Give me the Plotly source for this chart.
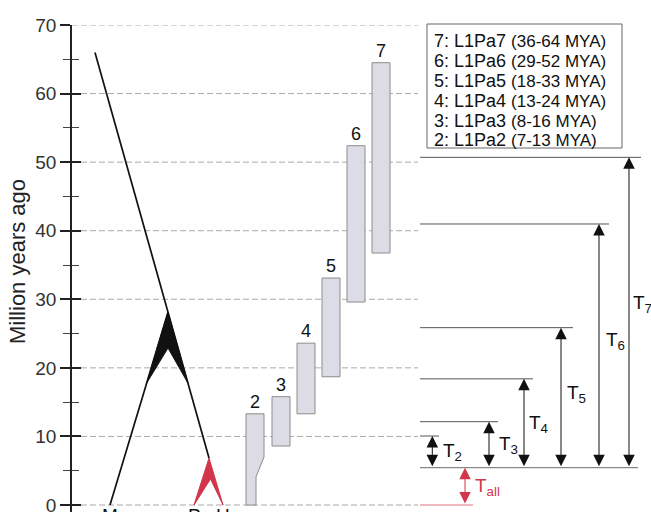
import plotly.graph_objects as go

# ---------------- data (ages in million years ago) ----------------
family_ids = ["2", "3", "4", "5", "6", "7"]
family_names = ["L1Pa2", "L1Pa3", "L1Pa4", "L1Pa5", "L1Pa6", "L1Pa7"]
family_age_text = ["7-13", "8-16", "13-24", "18-33", "29-52", "36-64"]
box_young = [7.0, 8.6, 13.3, 18.7, 29.6, 36.75]
box_old = [13.3, 15.8, 23.6, 33.1, 52.4, 64.5]
l1pa2_tail = [4.1, 0.0]          # neck age, bottom age of the L1Pa2 tail

tree_root_age = 66.0
split_old = 28.1                 # black wedge apex
split_young = 6.85               # red wedge apex
black_wedge_base = 17.8
black_wedge_notch = 22.9
red_wedge_notch = 3.8
tip_labels = ["M", "P", "H"]

t_names = ["2", "3", "4", "5", "6", "7"]
t_tops = [10.06, 12.15, 18.4, 25.86, 40.98, 50.7]
t_base = 5.45

ytick_vals = [0, 10, 20, 30, 40, 50, 60, 70]

# ---------------- layout positions (pixel columns) ----------------
W, H = 651, 512
L, T = 72, 25
PX_PER = 480 / 70.0


def val(py):
    return (505 - py) / PX_PER


def pap(py):
    return (H - py) / (H - T)


box_left = [246, 272, 297, 322, 347, 372]
box_w = 18
tail_right = 256

x_root, x_apex, x_M, x_red, x_P, x_H, x_notch_red = 95, 168, 110, 209, 194, 223, 210.5

t_arrow_x = [432.3, 489, 524, 561, 599, 629]
t_line_end = [439, 498, 533, 573, 609, 641]
t_label_x = [440.5, 497, 526.5, 565, 604, 631]
t_label_py = [449, 441.5, 420.5, 390.5, 337.5, 300.5]
line_start = 420
base_end = 638
tall_x, tall_line_end = 465, 473

FONT = "Liberation Sans, Arial, sans-serif"
RED = "#d2364b"
BOX_FILL = "#dcdce6"
BOX_LINE = "#8c8c8c"

fig = go.Figure()

# ---- tree ----
fig.add_trace(go.Scatter(x=[x_root, x_red], y=[tree_root_age, split_young], mode="lines",
                         line=dict(color="#111", width=1.7), hoverinfo="skip"))
fig.add_trace(go.Scatter(x=[x_apex, x_M], y=[split_old, 0], mode="lines",
                         line=dict(color="#111", width=1.7), hoverinfo="skip"))


def interp(xa, ya, xb, yb, y):
    return xa + (xb - xa) * (ya - y) / (ya - yb)


bl = interp(x_apex, split_old, x_M, 0, black_wedge_base)
br = interp(x_apex, split_old, x_red, split_young, black_wedge_base)
fig.add_trace(go.Scatter(x=[x_apex, bl, x_apex, br, x_apex],
                         y=[split_old, black_wedge_base, black_wedge_notch, black_wedge_base, split_old],
                         mode="lines", fill="toself", fillcolor="#111",
                         line=dict(color="#111", width=1), hoverinfo="skip"))
fig.add_trace(go.Scatter(x=[x_red, x_P, x_notch_red, x_H, x_red],
                         y=[split_young, 0, red_wedge_notch, 0, split_young],
                         mode="lines", fill="toself", fillcolor=RED,
                         line=dict(color=RED, width=1), hoverinfo="skip"))

# ---- boxes ----
for i, fid in enumerate(family_ids):
    x0 = box_left[i]
    x1 = x0 + box_w
    if i == 0:
        xs = [x0, x1, x1, tail_right, tail_right, x0, x0]
        ys = [box_old[i], box_old[i], box_young[i], l1pa2_tail[0], l1pa2_tail[1], l1pa2_tail[1], box_old[i]]
    else:
        xs = [x0, x1, x1, x0, x0]
        ys = [box_old[i], box_old[i], box_young[i], box_young[i], box_old[i]]
    fig.add_trace(go.Scatter(x=xs, y=ys, mode="lines", fill="toself", fillcolor=BOX_FILL,
                             line=dict(color=BOX_LINE, width=1), hoverinfo="skip"))
    fig.add_annotation(x=x0 + box_w / 2, y=box_old[i], xref="x", yref="y", text=fid,
                       showarrow=False, yanchor="bottom", yshift=0,
                       font=dict(family=FONT, size=18, color="#111"))

# dummy trace for overlay axis
fig.add_trace(go.Scatter(x=[None], y=[None], yaxis="y2", showlegend=False, hoverinfo="skip"))

shapes = []
# gridlines
for v in ytick_vals:
    shapes.append(dict(type="line", xref="x", yref="y", x0=L, x1=418, y0=v, y1=v,
                       line=dict(color="#aaaaaa", width=1, dash="6px,3px"), layer="below"))

# T lines
for i in range(len(t_names)):
    shapes.append(dict(type="line", xref="x", yref="y", x0=line_start, x1=t_line_end[i],
                       y0=t_tops[i], y1=t_tops[i], line=dict(color="#555", width=1)))
shapes.append(dict(type="line", xref="x", yref="y", x0=line_start, x1=base_end,
                   y0=t_base, y1=t_base, line=dict(color="#888", width=1.2)))
shapes.append(dict(type="line", xref="x", yref="y", x0=line_start, x1=tall_line_end,
                   y0=0, y1=0, line=dict(color="#e07080", width=1)))

# legend box
shapes.append(dict(type="rect", xref="x", yref="paper", x0=427, x1=622, y0=pap(148), y1=pap(24),
                   line=dict(color="#666", width=1), fillcolor="white"))

# T arrows
for i in range(len(t_names)):
    fig.add_annotation(x=t_arrow_x[i], y=t_tops[i], ax=t_arrow_x[i], ay=t_base,
                       xref="x", yref="y", axref="x", ayref="y", text="", showarrow=True,
                       arrowhead=2, startarrowhead=2, arrowside="end+start",
                       arrowsize=2.3, startarrowsize=2.3, arrowwidth=1, arrowcolor="#111",
                       standoff=0, startstandoff=0)
    fig.add_annotation(x=t_label_x[i], y=val(t_label_py[i]), xref="x", yref="y",
                       text="T<sub>%s</sub>" % t_names[i], showarrow=False,
                       xanchor="left", yanchor="middle", yshift=-3,
                       font=dict(family=FONT, size=19, color="#111"))

fig.add_annotation(x=tall_x, y=t_base, ax=tall_x, ay=0, xref="x", yref="y", axref="x", ayref="y",
                   text="", showarrow=True, arrowhead=2, startarrowhead=2, arrowside="end+start",
                   arrowsize=2.3, startarrowsize=2.3, arrowwidth=1, arrowcolor=RED,
                   standoff=0, startstandoff=0)
fig.add_annotation(x=473, y=val(483.7), xref="x", yref="y", text="T<sub>all</sub>", showarrow=False,
                   xanchor="left", yanchor="middle", yshift=-3,
                   font=dict(family=FONT, size=19, color=RED))

# legend text
legend_py = [40.7, 61.2, 81, 101, 120.5, 139.5]
for k, i in enumerate(reversed(range(len(family_ids)))):
    txt = "%s: %s <span style='font-size:17px'>(%s MYA)</span>" % (
        family_ids[i], family_names[i], family_age_text[i])
    fig.add_annotation(x=432, y=pap(legend_py[k]), xref="x", yref="paper", text=txt,
                       showarrow=False, xanchor="left", yanchor="middle",
                       font=dict(family=FONT, size=18, color="#111"))

# tip labels (cut by the bottom edge)
for lab, xx in zip(tip_labels, [x_M, x_P, x_H]):
    fig.add_annotation(x=xx, y=pap(515), xref="x", yref="paper", text=lab, showarrow=False,
                       xanchor="center", yanchor="middle",
                       font=dict(family=FONT, size=19, color="#111"))

# y title
fig.add_annotation(x=(17 - L) / (W - L), y=pap(262), xref="paper", yref="paper",
                   text="Million years ago", showarrow=False, textangle=-90,
                   xanchor="center", yanchor="middle",
                   font=dict(family=FONT, size=22, color="#222"))

fig.update_layout(
    width=W, height=H, margin=dict(l=L, r=0, t=T, b=0, pad=0),
    paper_bgcolor="white", plot_bgcolor="white", showlegend=False,
    shapes=shapes,
    xaxis=dict(range=[L, W], visible=False, fixedrange=True),
    yaxis=dict(range=[val(512), 70], tickvals=ytick_vals, ticks="outside", ticklen=10,
               tickwidth=1.5, tickcolor="#222", showline=True, linecolor="#222", linewidth=1.5,
               showgrid=False, zeroline=False, ticklabeloverflow="allow", automargin=False,
               tickfont=dict(family=FONT, size=19, color="#333"),
               minor=dict(dtick=5, tick0=0, ticks="outside", ticklen=7, tickwidth=1, tickcolor="#444",
                          showgrid=False)),
    yaxis2=dict(range=[val(512), 70], overlaying="y", side="left", tickvals=ytick_vals,
                ticks="inside", ticklen=9, tickwidth=1.5, tickcolor="#222", showticklabels=False,
                showline=False, showgrid=False, zeroline=False, automargin=False,
                minor=dict(dtick=5, tick0=0, ticks="inside", ticklen=7, tickwidth=1, tickcolor="#444",
                           showgrid=False)),
)

fig.write_html("out.html", config={"displayModeBar": False},
               post_script="document.body.style.margin='0px';document.body.style.overflow='hidden';")
